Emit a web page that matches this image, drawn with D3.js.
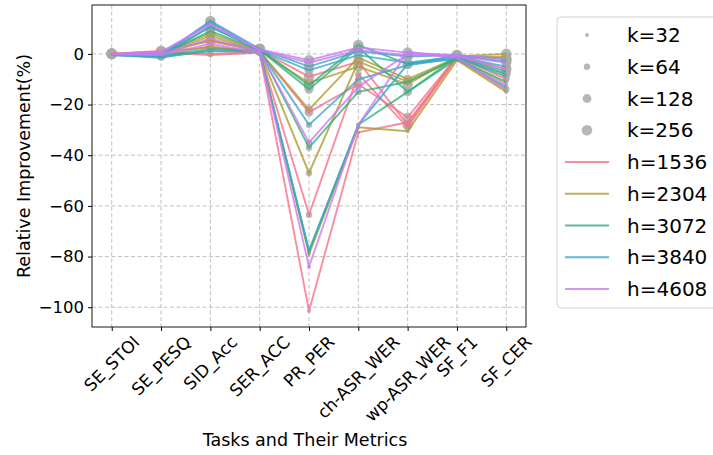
<!DOCTYPE html>
<html>
<head>
<meta charset="utf-8">
<script src="https://cdn.jsdelivr.net/npm/d3@7"></script>
<style>
body { margin: 0; background: #fff; }
svg { font-family: "DejaVu Sans", sans-serif; }
.grid line { stroke: #b0b0b0; stroke-dasharray: 4,2.5; stroke-width: 0.8; }
</style>
</head>
<body>
<svg id="chart" width="713" height="455"></svg>
<script>
const WIDTH = 713;
const HEIGHT = 455;

const tasks = ["SE_STOI", "SE_PESQ", "SID_Acc", "SER_ACC", "PR_PER", "ch-ASR_WER", "wp-ASR_WER", "SF_F1", "SF_CER"];
const hValues = [1536, 2304, 3072, 3840, 4608];
const kValues = [32, 64, 128, 256];
const yTicks = [0, -20, -40, -60, -80, -100];

// one row per task, per h, per k (k = 32, 64, 128, 256)
const h1536 = [
	[-0.3, 0.5, -0.5, 0.5, -101.5, -31, -27, -1.5, -12],
	[-0.2, 0.8, 0, 0.8, -63.5, -8, -29, -1.2, -10],
	[0, 1.0, 2.5, 1.0, -23, -12, -25, -1, -8],
	[0.1, 1.2, 5, 1.5, -9, -3, -28, -0.8, -6],
];
const h2304 = [
	[-0.3, -0.5, 3, 0.5, -79, -29, -30.5, -2.5, -15],
	[-0.2, -0.3, 5.5, 0.7, -47, -3, -11, -2, -14],
	[0, 0, 7, 1, -22, -1.5, -10, -1.5, -1],
	[0.1, 0.2, 8, 1.2, -11.5, -5, -12, -1, 0],
];
const h3072 = [
	[-0.5, -1.0, 1, 1, -78, -28, -15, -2, -11],
	[-0.3, -0.8, 2.0, 1.3, -37, -15, -11, -1.5, -9],
	[-0.2, -0.5, 9, 1.5, -14, 2.5, -15, -1, -7],
	[0, -0.3, 10.5, 2, -12.5, 3.5, -4, -0.8, -3],
];
const h3840 = [
	[-0.5, -1.5, 1.5, 0.8, -77.5, -28, -4, -2, -13],
	[-0.4, -1.2, 11, 1.2, -28, -10, -4.5, -1.5, -8],
	[-0.2, -0.8, 12.5, 1.5, -6.5, -0.5, -3.5, -1, -5],
	[0, -0.5, 13, 2, -5, 1, -1, -0.5, -2],
];
const h4608 = [
	[-0.3, -0.5, 4, 0.5, -84, -28, 0.8, -1.5, -14],
	[-0.2, 0, 6, 1, -35, -13, 0, -1, -6],
	[0, 0.5, 12, 1.5, -3.5, 1.5, -0.5, -0.8, -3.5],
	[0.1, 0.8, 11.5, 1.8, -2.5, 2.5, 0.5, -0.5, -2],
];
const seriesByH = [h1536, h2304, h3072, h3840, h4608];

const colors = ["#f77189", "#ae9d31", "#33b07a", "#38a9c5", "#cc7af4"];
const markerR = [2, 3.2, 4.4, 5.3];

const margin = { left: 92, right: 187, top: 5, bottom: 128 };
const plotW = WIDTH - margin.left - margin.right;
const plotH = HEIGHT - margin.top - margin.bottom;

const svg = d3.select("#chart");
const g = svg.append("g").attr("transform", `translate(${margin.left},${margin.top})`);

const xScale = d3.scaleLinear([-0.4, tasks.length - 1 + 0.4], [0, plotW]);
const yScale = d3.scaleLinear([-107.8, 19.3], [plotH, 0]);

// grid
const grid = g.append("g").classed("grid", true);
grid.selectAll(".gx")
	.data(d3.range(tasks.length))
	.join("line")
	.attr("x1", d => xScale(d)).attr("x2", d => xScale(d))
	.attr("y1", 0).attr("y2", plotH);
grid.selectAll(".gy")
	.data(yTicks)
	.join("line")
	.attr("x1", 0).attr("x2", plotW)
	.attr("y1", d => yScale(d)).attr("y2", d => yScale(d));

// flatten records
const records = [];
seriesByH.forEach((rows, hi) => {
	rows.forEach((vals, ki) => {
		records.push({ hi, ki, vals });
	});
});

// markers under the lines
const points = [];
for (const r of records) {
	r.vals.forEach((v, i) => points.push({ i, v, ki: r.ki }));
}
g.append("g")
	.selectAll("circle")
	.data(points.sort((a, b) => b.ki - a.ki))
	.join("circle")
	.attr("cx", d => xScale(d.i))
	.attr("cy", d => yScale(d.v))
	.attr("r", d => markerR[d.ki])
	.attr("fill", "#aaaaaa")
	.attr("opacity", 0.85);

const line = d3.line()
	.x((d, i) => xScale(i))
	.y(d => yScale(d));

g.append("g")
	.selectAll("path")
	.data(records)
	.join("path")
	.attr("d", d => line(d.vals))
	.attr("fill", "none")
	.attr("stroke", d => colors[d.hi])
	.attr("stroke-width", 1.9)
	.attr("opacity", 0.8);

// frame
g.append("rect")
	.attr("width", plotW).attr("height", plotH)
	.attr("fill", "none").attr("stroke", "#000").attr("stroke-width", 0.9);

// y axis
const yAxis = g.append("g")
	.call(d3.axisLeft(yScale).tickValues(yTicks).tickSize(4).tickPadding(4)
		.tickFormat(d => d < 0 ? "\u2212" + Math.abs(d) : d));
yAxis.select(".domain").remove();
yAxis.selectAll("text").attr("font-size", 16.5).attr("fill", "#000").attr("font-family", "DejaVu Sans");
yAxis.selectAll("line").attr("stroke", "#000");

// x axis ticks
const xAxis = g.append("g").attr("transform", `translate(0,${plotH})`)
	.call(d3.axisBottom(xScale).tickValues(d3.range(tasks.length)).tickSize(4).tickFormat(""));
xAxis.select(".domain").remove();
xAxis.selectAll("line").attr("stroke", "#000");

const X_FONT = 17;
const xLabels = g.append("g");
tasks.forEach((t, i) => {
	const txt = xLabels.append("text")
		.attr("font-size", X_FONT)
		.attr("text-anchor", "middle")
		.attr("dominant-baseline", "central")
		.text(t);
	const L = txt.node().getComputedTextLength();
	const H = (L + X_FONT) * Math.SQRT1_2;
	const cy = plotH + 6 + H / 2;
	txt.attr("transform", `translate(${xScale(i)},${cy}) rotate(-45)`);
});

// axis titles
svg.append("text")
	.attr("x", margin.left + plotW / 2 - 4)
	.attr("y", 446)
	.attr("text-anchor", "middle")
	.attr("font-size", 17.5)
	.text("Tasks and Their Metrics");
svg.append("text")
	.attr("transform", `translate(30,${margin.top + plotH / 2}) rotate(-90)`)
	.attr("text-anchor", "middle")
	.attr("font-size", 17.5)
	.text("Relative Improvement(%)");

// legend
const legend = svg.append("g").attr("transform", "translate(557,17)");
legend.append("rect")
	.attr("width", 160).attr("height", 291)
	.attr("rx", 4)
	.attr("fill", "#fff").attr("stroke", "#d0d0d0");
const rowY = i => 18 + i * 31.75;
kValues.forEach((k, i) => {
	legend.append("circle")
		.attr("cx", 30).attr("cy", rowY(i))
		.attr("r", markerR[i])
		.attr("fill", "#aaaaaa").attr("opacity", 0.85);
	legend.append("text")
		.attr("x", 70).attr("y", rowY(i))
		.attr("dominant-baseline", "central")
		.attr("font-size", 20)
		.text(`k=${k}`);
});
hValues.forEach((h, j) => {
	const i = j + kValues.length;
	legend.append("line")
		.attr("x1", 8).attr("x2", 52)
		.attr("y1", rowY(i)).attr("y2", rowY(i))
		.attr("stroke", colors[j]).attr("stroke-width", 1.9).attr("opacity", 0.8);
	legend.append("text")
		.attr("x", 70).attr("y", rowY(i))
		.attr("dominant-baseline", "central")
		.attr("font-size", 20)
		.text(`h=${h}`);
});
</script>
</body>
</html>
